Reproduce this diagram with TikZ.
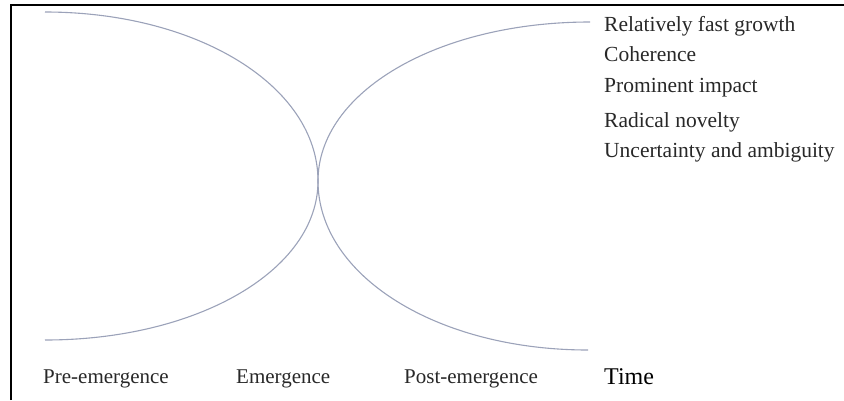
\documentclass[tikz,border=0pt]{standalone}
\usepackage{fontspec}
\setmainfont{Liberation Serif}
\definecolor{curvecol}{RGB}{155,162,185}
\definecolor{txtcol}{RGB}{40,40,40}
\begin{document}
\begin{tikzpicture}[x=1pt,y=1pt,
  curve/.style={draw=curvecol,line width=1.1pt},
  frame/.style={draw=black,line width=1.3pt},
  feat/.style={anchor=base west,inner sep=0pt,font=\fontsize{21.5}{23}\selectfont,text=txtcol},
  phase/.style={anchor=base west,inner sep=0pt,font=\fontsize{21}{23}\selectfont,text=txtcol},
  timelab/.style={anchor=base west,inner sep=0pt,font=\fontsize{24}{26}\selectfont,text=black}]
\useasboundingbox (0,0) rectangle (844,-400);
% frame
\draw[frame] (11,-400) -- (11,-5) -- (844,-5);
% named points
\coordinate (a1) at (45,-12);
\coordinate (x) at (318,-181);
\coordinate (a2) at (588,-350);
\coordinate (b1) at (45,-340);
\coordinate (b2) at (590,-22);
% curves
\draw[curve] (a1) .. controls (45+0.56*273,-12) and (318,-181+0.56*169) .. (x)
  .. controls (318,-181-0.56*169) and (588-0.56*270,-350) .. (a2);
\draw[curve] (b1) .. controls (45+0.56*273,-340) and (318,-181-0.56*159) .. (x)
  .. controls (318,-181+0.56*159) and (590-0.56*272,-22) .. (b2);
% features
\node[feat] (f1) at (604,-31) {Relatively fast growth};
\node[feat] (f2) at (604,-61) {Coherence};
\node[feat] (f3) at (604,-92) {Prominent impact};
\node[feat] (f4) at (604,-127) {Radical novelty};
\node[feat] (f5) at (604,-157) {Uncertainty and ambiguity};
% phases
\node[phase] (p1) at (43,-383) {Pre-emergence};
\node[phase] (p2) at (236,-383) {Emergence};
\node[phase] (p3) at (404,-383) {Post-emergence};
\node[timelab] (t) at (604,-384) {Time};
\end{tikzpicture}
\end{document}
